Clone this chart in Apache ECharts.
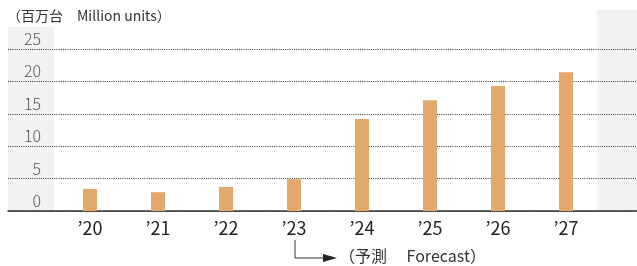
<!DOCTYPE html>
<html>
<head>
<meta charset="utf-8">
<script src="https://cdn.jsdelivr.net/npm/echarts@6/dist/echarts.min.js"></script>
<style>
  html, body { margin: 0; padding: 0; background: #fff; }
  #chart { width: 637px; height: 266px; }
</style>
</head>
<body>
<div id="chart"></div>
<script>
// units sold, million
const years = ['’20', '’21', '’22', '’23', '’24', '’25', '’26', '’27']
const units = [3.4, 2.9, 3.7, 4.9, 14.2, 17.1, 19.3, 21.4]
const yTicks = [0, 5, 10, 15, 20, 25]

const font = '"Noto Sans CJK JP", "Noto Sans", sans-serif'
const barColor = '#e3a96c'
const panel = '#f1f2f4'

let chart = echarts.init(document.getElementById('chart'))
let option = {
  animation: false,
  textStyle: { fontFamily: font },
  grid: [
    { left: 8, right: 0, top: 49, bottom: 55 },
    { left: 56, right: 37, top: 49, bottom: 55 }
  ],
  xAxis: [
    {
      gridIndex: 0,
      type: 'value',
      axisLine: { show: true, lineStyle: { color: '#333', width: 1.5 } },
      axisTick: { show: false },
      axisLabel: { show: false },
      splitLine: { show: false }
    },
    {
      gridIndex: 1,
      type: 'category',
      data: years,
      axisLine: { show: false },
      axisTick: { show: false },
      axisLabel: { color: '#222', fontSize: 18, margin: 8, fontFamily: font }
    }
  ],
  yAxis: [
    {
      gridIndex: 0,
      type: 'value',
      min: yTicks[0],
      max: yTicks[yTicks.length - 1],
      interval: 5,
      axisLine: { show: false },
      axisTick: { show: false },
      axisLabel: { show: false },
      splitLine: { lineStyle: { color: '#333', type: [1, 1.2], width: 1 } }
    },
    {
      gridIndex: 1,
      type: 'value',
      min: yTicks[0],
      max: yTicks[yTicks.length - 1],
      interval: 5,
      axisLine: { show: false },
      axisTick: { show: false },
      splitLine: { show: false },
      axisLabel: {
        color: '#555', fontSize: 16, margin: 15, fontFamily: font, fontWeight: 300,
        verticalAlign: 'bottom', padding: [0, 0, 2, 0]
      }
    }
  ],
  series: [
    {
      type: 'bar',
      xAxisIndex: 1,
      yAxisIndex: 1,
      data: units,
      barWidth: 14,
      itemStyle: { color: barColor }
    }
  ],
  graphic: [
    { type: 'rect', z: -10, shape: { x: 8, y: 27, width: 46, height: 184 }, style: { fill: panel } },
    { type: 'rect', z: -10, shape: { x: 597, y: 10, width: 40, height: 201 }, style: { fill: panel } },
    {
      type: 'text', left: 7, top: 9,
      style: { text: '（百万台　Million units）', font: '14px ' + font, fill: '#333' }
    },
    // forecast marker from '23
    {
      type: 'polyline',
      shape: { points: [[295, 240], [295, 258], [326, 258]] },
      style: { stroke: '#333', lineWidth: 1, fill: null }
    },
    {
      type: 'polygon',
      shape: { points: [[323, 254], [337, 258], [323, 262]] },
      style: { fill: '#222' }
    },
    {
      type: 'text', left: 339, top: 248,
      style: { text: '（予測　 Forecast）', font: '16px ' + font, fill: '#333' }
    }
  ]
}
chart.setOption(option)
</script>
</body>
</html>
